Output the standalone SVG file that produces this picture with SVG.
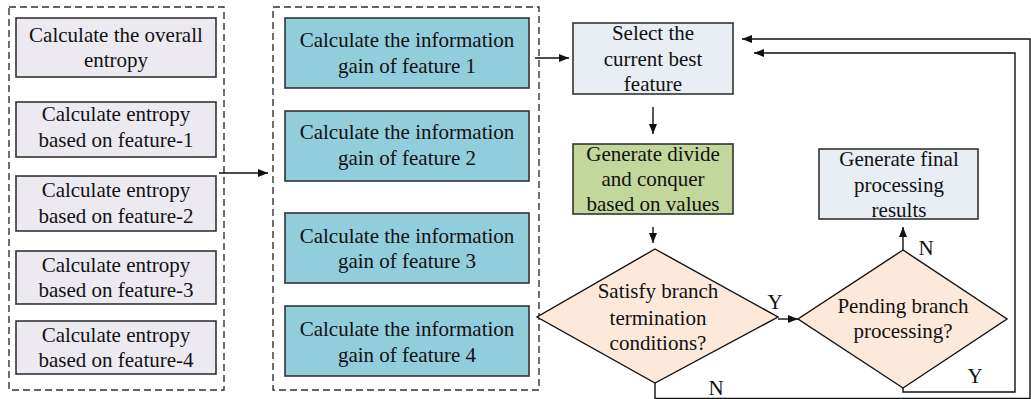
<svg xmlns="http://www.w3.org/2000/svg" width="1031" height="399" viewBox="0 0 1031 399">
  <style>
    text { font-family: "Liberation Serif", "Times New Roman", serif; font-size: 21px; fill: #111; text-anchor: middle; }
    .group { fill: none; stroke: #333; stroke-width: 1.4; stroke-dasharray: 7 4; }
    .ent { fill: #ECE9F1; stroke: #333; stroke-width: 1.6; }
    .gain { fill: #92CDDC; stroke: #333; stroke-width: 1.6; }
    .pale { fill: #E9EDF4; stroke: #333; stroke-width: 1.6; }
    .green { fill: #C3D69B; stroke: #333; stroke-width: 1.6; }
    .dec { fill: #FDE9D9; stroke: #111; stroke-width: 1.4; }
    .edge { fill: none; stroke: #111; stroke-width: 1.4; }
    .arrow { marker-end: url(#head); }
  </style>
  <defs>
    <marker id="head" markerUnits="userSpaceOnUse" markerWidth="10" markerHeight="8" refX="10" refY="4" orient="auto">
      <path d="M0,0 L10,4 L0,8 z" fill="#111"/>
    </marker>
  </defs>

  <rect width="1031" height="399" fill="#fff"/>

  <!-- entropy group -->
  <g id="entropy-group">
    <rect class="group" x="9" y="7" width="215" height="383"/>
  </g>
  <g id="overall-entropy">
    <rect class="ent" x="16" y="18" width="200" height="59"/>
    <text x="116" y="42">Calculate the overall</text>
    <text x="116" y="67">entropy</text>
  </g>
  <g id="entropy-1">
    <rect class="ent" x="16" y="102" width="200" height="55"/>
    <text x="116" y="121">Calculate entropy</text>
    <text x="116" y="147">based on feature-1</text>
  </g>
  <g id="entropy-2">
    <rect class="ent" x="16" y="176" width="200" height="55"/>
    <text x="116" y="197">Calculate entropy</text>
    <text x="116" y="223">based on feature-2</text>
  </g>
  <g id="entropy-3">
    <rect class="ent" x="16" y="251" width="200" height="53"/>
    <text x="116" y="272">Calculate entropy</text>
    <text x="116" y="297">based on feature-3</text>
  </g>
  <g id="entropy-4">
    <rect class="ent" x="16" y="321" width="200" height="53"/>
    <text x="116" y="342">Calculate entropy</text>
    <text x="116" y="367">based on feature-4</text>
  </g>

  <!-- information gain group -->
  <g id="gain-group">
    <rect class="group" x="273" y="7" width="266" height="383"/>
  </g>
  <g id="gain-1">
    <rect class="gain" x="285" y="18" width="244" height="70"/>
    <text x="407" y="47">Calculate the information</text>
    <text x="407" y="73">gain of feature 1</text>
  </g>
  <g id="gain-2">
    <rect class="gain" x="285" y="111" width="244" height="70"/>
    <text x="407" y="139">Calculate the information</text>
    <text x="407" y="165">gain of feature 2</text>
  </g>
  <g id="gain-3">
    <rect class="gain" x="285" y="213" width="244" height="70"/>
    <text x="407" y="243">Calculate the information</text>
    <text x="407" y="268">gain of feature 3</text>
  </g>
  <g id="gain-4">
    <rect class="gain" x="285" y="306" width="244" height="70"/>
    <text x="407" y="336">Calculate the information</text>
    <text x="407" y="362">gain of feature 4</text>
  </g>

  <!-- decision flow -->
  <g id="select-best">
    <rect class="pale" x="573" y="23" width="160" height="71"/>
    <text x="653" y="40">Select the</text>
    <text x="653" y="66">current best</text>
    <text x="653" y="91">feature</text>
  </g>
  <g id="divide-conquer">
    <rect class="green" x="573" y="144" width="160" height="70"/>
    <text x="653" y="161">Generate divide</text>
    <text x="653" y="186">and conquer</text>
    <text x="653" y="211">based on values</text>
  </g>
  <g id="final-results">
    <rect class="pale" x="819" y="149" width="159" height="70"/>
    <text x="899" y="166">Generate final</text>
    <text x="899" y="192">processing</text>
    <text x="899" y="217">results</text>
  </g>
  <g id="termination-check">
    <polygon class="dec" points="655,249 778,317 655,383 537,317"/>
    <text x="658" y="298">Satisfy branch</text>
    <text x="658" y="325">termination</text>
    <text x="658" y="350">conditions?</text>
  </g>
  <g id="pending-check">
    <polygon class="dec" points="903,250 1007,319 903,388 798,319"/>
    <text x="903" y="313">Pending branch</text>
    <text x="903" y="338">processing?</text>
  </g>

  <!-- connectors -->
  <g id="connectors">
    <line class="edge arrow" x1="219" y1="173" x2="268" y2="173"/>
    <line class="edge arrow" x1="535" y1="58" x2="569" y2="58"/>
    <line class="edge arrow" x1="653" y1="107" x2="653" y2="134"/>
    <line class="edge arrow" x1="653" y1="227" x2="653" y2="243"/>
    <line class="edge arrow" x1="778" y1="319" x2="798" y2="319"/>
    <line class="edge arrow" x1="903" y1="250" x2="903" y2="227"/>
    <polyline class="edge arrow" points="903,388 903,392 1015,392 1015,53 754,53"/>
    <polyline class="edge arrow" points="655,383 655,398.5 1030,398.5 1030,39 742,39"/>
    <text x="775" y="309">Y</text>
    <text x="926" y="255">N</text>
    <text x="975" y="383">Y</text>
    <text x="716" y="395">N</text>
  </g>
</svg>
